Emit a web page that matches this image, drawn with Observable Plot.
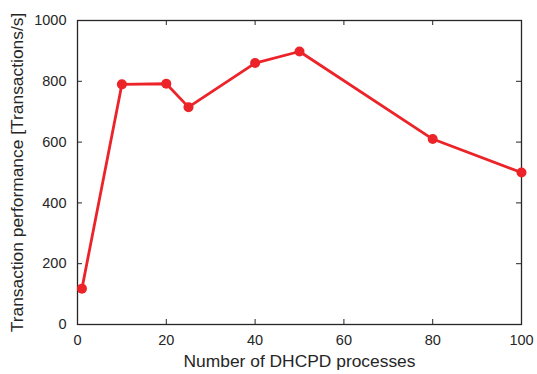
<!DOCTYPE html>
<html>
<head>
<meta charset="utf-8">
<script src="https://cdn.jsdelivr.net/npm/d3@7"></script>
<script src="https://cdn.jsdelivr.net/npm/@observablehq/plot@0.6"></script>
<style>
  html, body { margin: 0; padding: 0; background: #fff; }
</style>
</head>
<body>
<div id="chart"></div>
<script>
const processes = [1, 10, 20, 25, 40, 50, 80, 100];
const performance = [118, 790, 792, 715, 860, 898, 610, 500];
const xTicks = [0, 20, 40, 60, 80, 100];
const yTicks = [0, 200, 400, 600, 800, 1000];
const xLabel = "Number of DHCPD processes";
const yLabel = "Transaction performance [Transactions/s]";

const data = processes.map((x, i) => ({x, y: performance[i]}));

const W = 537, H = 374;
const mL = 77, mR = 16, mT = 20, mB = 50;
const iw = W - mL - mR, ih = H - mT - mB;
const tick = 5;
const red = "#ec2329";
const ink = "#262626";

const chart = Plot.plot({
  width: W,
  height: H,
  marginLeft: mL,
  marginRight: mR,
  marginTop: mT,
  marginBottom: mB,
  style: {fontFamily: "'Liberation Sans', Arial, Helvetica, sans-serif", fontSize: "14.5px", color: ink, background: "#fff"},
  x: {domain: [0, 100]},
  y: {domain: [0, 1000]},
  marks: [
    Plot.axisX(xTicks, {tickSize: 0, tickPadding: 10, fontSize: 14.5, label: null, fill: ink, tickFormat: d3.format("d")}),
    Plot.axisY(yTicks, {tickSize: 0, tickPadding: 11, fontSize: 14.5, label: null, fill: ink, tickFormat: d3.format("d")}),
    Plot.tickX(xTicks, {x: d => d, insetTop: ih - tick, stroke: ink, strokeWidth: 1}),
    Plot.tickX(xTicks, {x: d => d, insetBottom: ih - tick, stroke: ink, strokeWidth: 1}),
    Plot.tickY(yTicks, {y: d => d, insetRight: iw - tick, stroke: ink, strokeWidth: 1}),
    Plot.tickY(yTicks, {y: d => d, insetLeft: iw - tick, stroke: ink, strokeWidth: 1}),
    Plot.frame({stroke: ink, strokeWidth: 1.3}),
    Plot.line(data, {x: "x", y: "y", stroke: red, strokeWidth: 2.8}),
    Plot.dot(data, {x: "x", y: "y", r: 5, fill: red, stroke: "none"}),
    Plot.text([xLabel], {text: d => d, frameAnchor: "bottom", textAnchor: "middle", dy: 42, fontSize: 17.4, fill: ink}),
    Plot.text([yLabel], {text: d => d, frameAnchor: "left", textAnchor: "middle", rotate: -90, dx: -60, fontSize: 17.4, fill: ink})
  ]
});
document.getElementById("chart").appendChild(chart);
</script>
</body>
</html>
